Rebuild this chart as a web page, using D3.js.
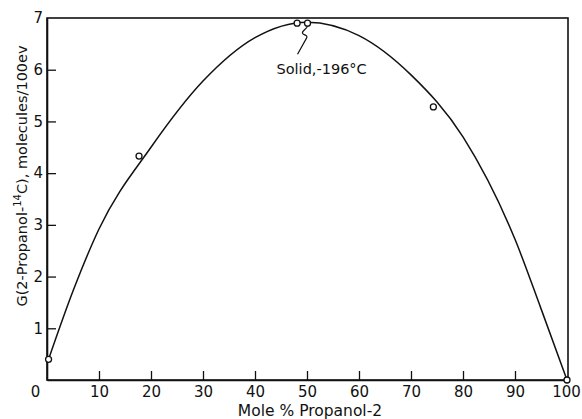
<!DOCTYPE html>
<html>
<head>
<meta charset="utf-8">
<script src="https://cdn.jsdelivr.net/npm/d3@7/dist/d3.min.js"></script>
<style>
  html, body { margin: 0; padding: 0; background: #fff; }
  svg { display: block; }
  text { font-family: "DejaVu Sans", sans-serif; fill: #111; }
</style>
</head>
<body>
<svg id="chart" width="582" height="419"></svg>
<script>
// ---- data ----
const xTicks = [0, 10, 20, 30, 40, 50, 60, 70, 80, 90, 100];
const yTicks = [1, 2, 3, 4, 5, 6, 7];
// measured points (mole % propanol-2, G value)
const pointX = [0.3, 17.7, 48.1, 50.1, 74.3, 100];
const pointY = [0.40, 4.33, 6.90, 6.90, 5.28, 0.0];
// smooth fitted curve
const curveX = [0.3, 5, 10, 20, 30, 40, 50, 60, 70, 80, 90, 95, 100];
const curveY = [0.40, 1.72, 2.92, 4.5, 5.78, 6.62, 6.92, 6.66, 5.9, 4.7, 2.72, 1.38, 0.0];
const annotationText = "Solid,-196°C";
const xTitle = "Mole  % Propanol-2";

// ---- layout ----
const svg = d3.select("#chart");
const x = d3.scaleLinear().domain([0, 100]).range([47, 567]);
const y = d3.scaleLinear().domain([0, 7]).range([380, 18]);
const ink = "#111";

// frame
svg.append("rect")
  .attr("x", x(0)).attr("y", y(7))
  .attr("width", x(100) - x(0) + 1).attr("height", y(0) - y(7))
  .attr("fill", "none").attr("stroke", ink).attr("stroke-width", 1.6);

// x axis (ticks inward)
const xAxis = d3.axisBottom(x).tickValues(xTicks).tickSize(-9).tickSizeOuter(0)
  .tickFormat(d => d);
const gx = svg.append("g").attr("transform", `translate(0,${y(0)})`).call(xAxis);
gx.select(".domain").attr("stroke", ink).attr("stroke-width", 1.6);
gx.selectAll(".tick line").attr("stroke", ink).attr("stroke-width", 1.3)
  .attr("display", d => (d === 0 || d === 100) ? "none" : null);
gx.selectAll(".tick text")
  .attr("font-size", 15).attr("fill", ink).attr("y", 6).attr("dy", "0.71em")
  .attr("dx", d => d === 0 ? -12 : (d === 100 ? -1 : 0))
  .style("font-family", "DejaVu Sans, sans-serif");

// y axis (ticks inward)
const yAxis = d3.axisLeft(y).tickValues(yTicks).tickSize(-9).tickSizeOuter(0)
  .tickFormat(d => d);
const gy = svg.append("g").attr("transform", `translate(${x(0)},0)`).call(yAxis);
gy.select(".domain").attr("stroke", ink).attr("stroke-width", 1.6);
gy.selectAll(".tick line").attr("stroke", ink).attr("stroke-width", 1.3)
  .attr("display", d => d === 7 ? "none" : null);
gy.selectAll(".tick text")
  .attr("font-size", 15).attr("fill", ink).attr("x", -4)
  .style("font-family", "DejaVu Sans, sans-serif");

// curve
const curveData = curveX.map((v, i) => [v, curveY[i]]);
const line = d3.line().x(d => x(d[0])).y(d => y(d[1])).curve(d3.curveMonotoneX);
svg.append("path").datum(curveData)
  .attr("d", line).attr("fill", "none").attr("stroke", ink).attr("stroke-width", 1.5);

// points
const pts = pointX.map((v, i) => [v, pointY[i]]);
svg.selectAll("circle.pt").data(pts).enter().append("circle")
  .attr("class", "pt")
  .attr("cx", d => x(d[0])).attr("cy", d => y(d[1])).attr("r", 3)
  .attr("fill", "#fff").attr("stroke", ink).attr("stroke-width", 1.3);

// annotation leader (squiggle) from the solid point
const ax = x(pointX[3]), ay = y(pointY[3]);
const leader = d3.path();
leader.moveTo(ax, ay + 3);
leader.bezierCurveTo(ax - 1, ay + 6, ax - 6, ay + 8, ax - 5, ay + 10);
leader.bezierCurveTo(ax - 4, ay + 12, ax + 1, ay + 12, ax - 1, ay + 15);
leader.lineTo(ax - 10, ay + 31);
svg.append("path").attr("d", leader.toString())
  .attr("fill", "none").attr("stroke", ink).attr("stroke-width", 1.2);

svg.append("text")
  .attr("x", ax - 31).attr("y", ay + 51)
  .attr("font-size", 14.5)
  .text(annotationText);

// axis titles
svg.append("text")
  .attr("x", 310).attr("y", 416)
  .attr("text-anchor", "middle").attr("font-size", 15.5)
  .text(xTitle);

const yt = svg.append("text")
  .attr("transform", "translate(27,176) rotate(-90)")
  .attr("text-anchor", "middle").attr("font-size", 14.5);
yt.append("tspan").text("G(2-Propanol-");
yt.append("tspan").attr("dy", -6).attr("font-size", 10).text("14");
yt.append("tspan").attr("dy", 6).text("C), molecules/100ev");
</script>
</body>
</html>
